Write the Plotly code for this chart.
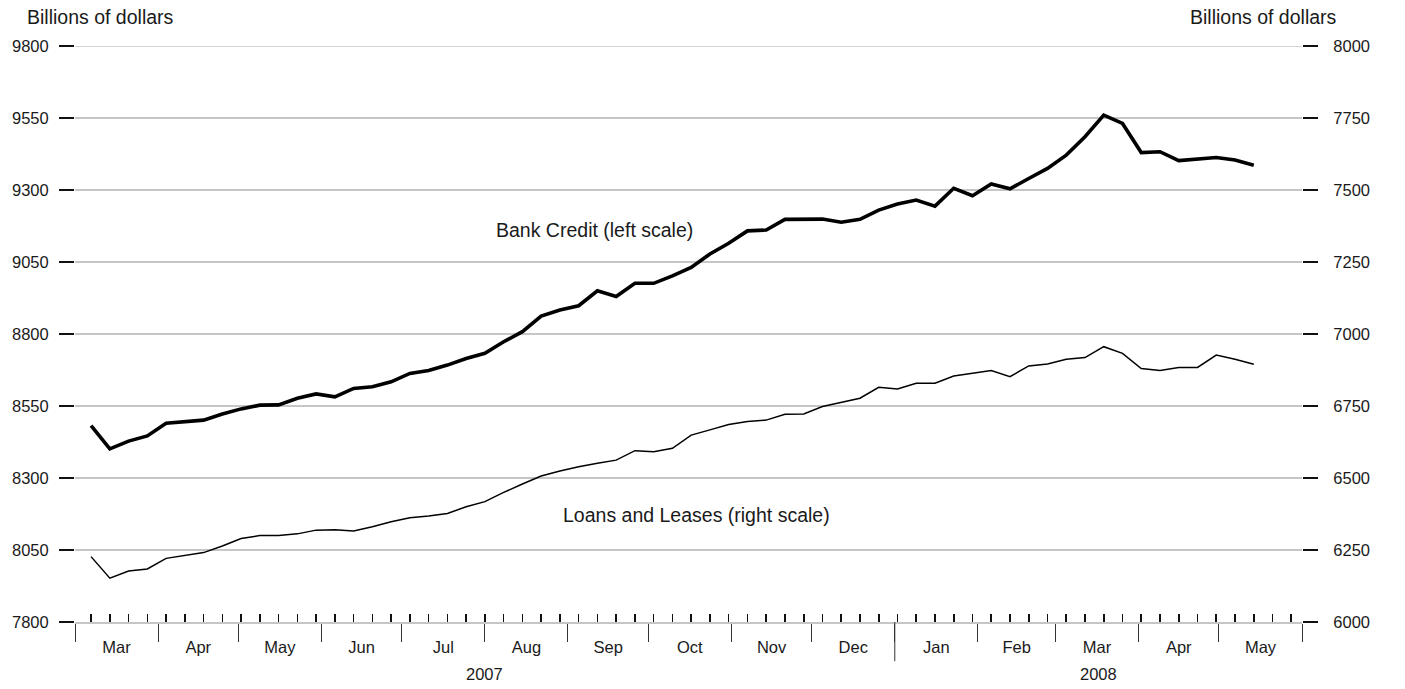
import pandas as pd
import plotly.graph_objects as go

# Weekly (Wednesday) observations
week_dates = pd.date_range("2007-03-07", "2008-05-14", freq="7D")

bank_credit = [
    8482, 8401, 8428, 8446,                  # Mar 2007
    8490, 8497, 8501, 8522,                  # Apr
    8540, 8553, 8554, 8577, 8592,            # May
    8582, 8611, 8617, 8634,                  # Jun
    8663, 8673, 8692, 8715,                  # Jul
    8733, 8773, 8808, 8862, 8883,            # Aug
    8898, 8950, 8930, 8976,                  # Sep
    8976, 9002, 9031, 9078, 9115,            # Oct
    9158, 9161, 9198, 9199,                  # Nov
    9199, 9188, 9198, 9230,                  # Dec
    9251, 9265, 9244, 9306, 9280,            # Jan 2008
    9321, 9304, 9340, 9375,                  # Feb
    9421, 9485, 9560, 9531,                  # Mar
    9430, 9433, 9402, 9406, 9413,            # Apr
    9404, 9386,                              # May
]

loans_leases = [
    6227, 6152, 6177, 6184,
    6221, 6230, 6241, 6264,
    6290, 6300, 6300, 6306, 6319,
    6320, 6316, 6331, 6348,
    6362, 6368, 6377, 6400,
    6418, 6450, 6479, 6507, 6524,
    6539, 6551, 6562, 6595,
    6591, 6603, 6649, 6667, 6686,
    6696, 6701, 6721, 6722,
    6748, 6762, 6777, 6815,
    6809, 6829, 6829, 6854, 6863,
    6873, 6852, 6889, 6896,
    6912, 6918, 6956, 6933,
    6880, 6873, 6884, 6884, 6927,
    6912, 6895,
]

left_ticks = [7800, 8050, 8300, 8550, 8800, 9050, 9300, 9550, 9800]
right_ticks = [6000, 6250, 6500, 6750, 7000, 7250, 7500, 7750, 8000]
year_labels = ["2007", "2008"]
year_centers = ["2007-08-01", "2008-03-17"]

FONT = "Liberation Sans, Arial, Helvetica, sans-serif"
TXT = "#1a1a1a"
GRID = "#c6c6c6"

fig = go.Figure()
fig.add_trace(go.Scatter(x=week_dates, y=bank_credit, mode="lines",
                         line=dict(color="#000000", width=3.6),
                         name="Bank Credit", yaxis="y"))
fig.add_trace(go.Scatter(x=week_dates, y=loans_leases, mode="lines",
                         line=dict(color="#000000", width=1.5),
                         name="Loans and Leases", yaxis="y2"))

fig.update_layout(
    width=1405, height=689,
    margin=dict(l=73, r=103, t=46, b=67),
    paper_bgcolor="white", plot_bgcolor="white",
    showlegend=False,
    font=dict(family=FONT, size=16, color=TXT),
    xaxis=dict(
        type="date",
        range=["2007-03-01", "2008-06-01"],
        tick0="2007-03-01", dtick="M1",
        tickformat="%b", ticklabelmode="period",
        ticks="outside", ticklen=18, tickwidth=1, tickcolor="#333333",
        ticklabelstandoff=-8,
        showgrid=False, zeroline=False,
        showline=True, linecolor=GRID, linewidth=1.5,
        tickfont=dict(size=16.5, color=TXT),
        minor=dict(tick0="2007-03-07", dtick=7 * 86400000,
                   ticks="inside", ticklen=8, tickwidth=1.6,
                   tickcolor="#111111", showgrid=False),
    ),
    yaxis=dict(
        range=[7800, 9800], tickvals=left_ticks,
        ticktext=[str(v) for v in left_ticks],
        ticks="outside", ticklen=15, tickwidth=2, tickcolor="#111111",
        showgrid=True, gridcolor=GRID, gridwidth=1.5,
        zeroline=False, showline=False,
        tickfont=dict(size=16.5, color=TXT),
        ticklabelstandoff=7,
    ),
    yaxis2=dict(
        range=[6000, 8000], tickvals=right_ticks,
        ticktext=[str(v) for v in right_ticks],
        overlaying="y", side="right",
        ticks="outside", ticklen=15, tickwidth=2, tickcolor="#111111",
        showgrid=False, zeroline=False, showline=False,
        tickfont=dict(size=16.5, color=TXT),
        ticklabelstandoff=12,
    ),
)

# Top gridline (9800) which plotly omits at the range edge
fig.add_shape(type="line", xref="paper", yref="y",
              x0=0, x1=1, y0=left_ticks[-1], y1=left_ticks[-1],
              line=dict(color=GRID, width=1.5), layer="below")

# Longer tick marking the year boundary
fig.add_shape(type="line", xref="x", yref="paper",
              x0="2008-01-01", x1="2008-01-01", y0=0, y1=-0.068,
              line=dict(color="#333333", width=1))

annotations = [
    dict(text="Billions of dollars", xref="paper", yref="paper",
         x=0, y=1, xanchor="left", yanchor="middle", xshift=-50, yshift=29,
         showarrow=False, font=dict(size=19.5, color=TXT)),
    dict(text="Billions of dollars", xref="paper", yref="paper",
         x=1, y=1, xanchor="left", yanchor="middle", xshift=-114, yshift=29,
         showarrow=False, font=dict(size=19.5, color=TXT)),
    dict(text="Bank Credit (left scale)", xref="x", yref="y",
         x="2007-09-11", y=9161, showarrow=False,
         font=dict(size=19.5, color=TXT)),
    dict(text="Loans and Leases (right scale)", xref="x", yref="y2",
         x="2007-10-19", y=6372, showarrow=False,
         font=dict(size=19.5, color=TXT)),
]
for lab, cx in zip(year_labels, year_centers):
    annotations.append(dict(text=lab, xref="x", yref="paper", x=cx, y=0,
                            yanchor="middle", yshift=-52, showarrow=False,
                            font=dict(size=16.5, color=TXT)))
fig.update_layout(annotations=annotations)

fig.write_html(
    "out.html",
    config={"displayModeBar": False, "staticPlot": True},
    post_script="document.body.style.margin='0';document.body.style.overflow='hidden';",
)
